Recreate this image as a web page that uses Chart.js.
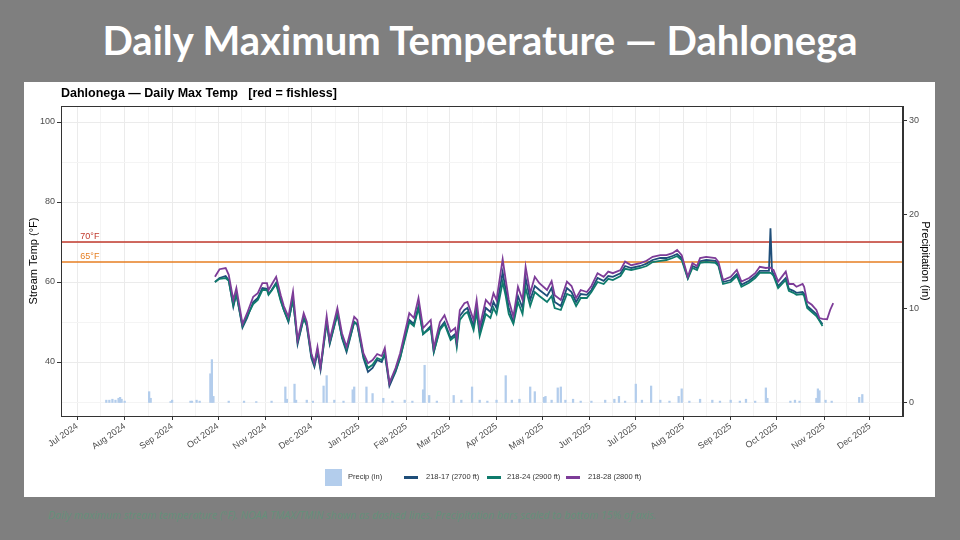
<!DOCTYPE html>
<html>
<head>
<meta charset="utf-8">
<script src="https://cdn.jsdelivr.net/npm/chart.js@4.4.1/dist/chart.umd.min.js"></script>
<style>
  body { margin: 0; width: 960px; height: 540px; background: #7f7f7f; overflow: hidden; position: relative; font-family: "Liberation Sans", Arial, sans-serif; }
  h1 { position: absolute; left: 0; top: 16px; width: 960px; margin: 0; text-align: center; color: #fff; font: bold 40px Lato, sans-serif; }
  #panel { position: absolute; left: 24px; top: 82px; width: 911px; height: 415px; background: #fff; }
  .lg { position: absolute; font-size: 7.5px; color: #333; line-height: 10px; top: 472px; }
  .sw { position: absolute; }
  #note { position: absolute; left: 48px; top: 508px; font: italic 10.5px "Open Sans", sans-serif; color: #65907a; white-space: nowrap; }
</style>
</head>
<body>
<h1>Daily Maximum Temperature — Dahlonega</h1>
<div id="panel"><canvas id="c" width="911" height="415"></canvas></div>

<div class="sw" style="left:325px;top:469px;width:17px;height:17px;background:#b3cdec"></div>
<div class="lg" style="left:348px">Precip (in)</div>
<div class="sw" style="left:404px;top:475.5px;width:14px;height:3px;background:#1f4e79"></div>
<div class="lg" style="left:426px">218-17 (2700 ft)</div>
<div class="sw" style="left:487px;top:475.5px;width:14px;height:3px;background:#0f7b6c"></div>
<div class="lg" style="left:507px">218-24 (2900 ft)</div>
<div class="sw" style="left:566px;top:475.5px;width:14px;height:3px;background:#7d3c98"></div>
<div class="lg" style="left:588px">218-28 (2800 ft)</div>

<div id="note">Daily maximum stream temperature (°F). NOAA TMAX/TMIN shown as dashed lines. Precipitation bars scaled to bottom 15% of axis.</div>

<script>
// days counted from 1 Jul 2024
var days = [90,93,97,99,102,104,108,111,115,118,121,124,125,127,130,133,135,138,141,144,
  148,150,153,155,157,159,163,165,170,173,176,181,183,187,190,193,196,199,201,204,
  208,211,214,217,220,223,226,231,233,237,240,244,247,248,250,253,255,259,261,263,
  267,270,272,274,278,280,282,285,288,291,293,296,299,302,307,310,312,316,320,323,
  326,329,333,336,340,344,347,350,355,358,362,368,372,376,381,385,389,392,395,399,
  402,405,407,411,417,419,422,427,431,434,439,443,446,450,452,453,454,455,458,463,
  465,468,470,474,475,477,480,483,485,487,490,492,494];

var s17 = [60.0,61.0,61.5,60.5,53.8,57.0,48.6,51.0,55.0,56.0,58.5,58.3,57.0,58.0,59.8,55.5,53.0,50.0,55.8,44.5,
  51.0,49.0,41.0,38.8,42.5,38.0,50.0,44.5,52.0,46.0,42.5,50.0,49.3,41.0,37.5,38.5,40.5,40.0,42.0,34.0,
  37.5,41.0,46.0,50.5,49.5,54.0,47.0,49.0,42.5,48.5,50.0,46.0,47.0,44.5,51.5,53.0,53.5,49.0,53.5,47.5,
  53.5,52.5,55.0,53.5,62.5,58.0,53.5,50.0,56.5,53.5,61.0,55.5,59.0,58.0,56.5,58.5,55.0,54.0,58.5,57.5,
  55.0,57.0,56.8,58.0,61.0,60.3,61.5,61.3,62.2,64.0,63.5,64.0,64.6,65.5,66.0,66.0,66.5,67.0,66.0,61.0,
  64.0,63.5,65.2,65.5,65.3,64.3,60.0,60.5,62.0,59.3,60.3,61.5,62.8,62.8,62.8,73.4,62.6,62.0,59.0,61.0,
  58.3,57.8,57.3,57.5,57.0,54.0,53.0,52.0,50.5,49.5,null,null,null];

var s24 = [60.0,60.8,61.0,60.3,54.2,57.0,49.0,51.5,54.5,55.5,58.0,58.0,56.8,57.8,59.5,55.2,53.0,50.3,55.5,45.0,
  51.0,49.3,41.5,39.3,43.0,38.5,50.0,44.8,52.0,46.3,43.0,50.0,49.5,41.5,38.5,39.3,41.0,40.5,42.3,34.8,
  37.8,41.0,45.5,50.0,49.0,53.5,47.0,48.5,42.5,48.0,49.5,45.5,46.5,43.8,50.5,52.0,52.5,48.0,52.5,46.5,
  52.0,51.0,53.5,52.0,60.0,56.5,52.0,49.5,55.0,52.0,58.5,54.0,57.5,56.5,55.0,56.5,53.5,53.0,57.0,56.5,
  54.0,56.0,56.0,57.5,60.0,59.5,60.8,60.5,61.5,63.3,63.0,63.5,64.0,65.0,65.3,65.5,66.0,66.5,65.5,60.8,
  63.5,63.0,64.8,65.0,64.8,64.0,59.5,60.0,61.5,58.8,59.8,61.0,62.3,62.3,62.3,62.3,62.0,61.5,58.5,60.5,
  57.8,57.3,56.8,57.0,56.5,53.5,52.5,51.5,50.3,49.0,null,null,null];

var s28 = [61.3,63.2,63.5,61.8,55.5,58.5,49.5,52.2,56.3,57.2,59.7,59.7,58.0,59.3,61.3,56.7,54.0,51.3,57.6,45.5,
  52.2,50.1,42.2,39.7,43.8,38.8,51.5,45.5,53.5,47.2,43.8,51.3,50.5,42.2,39.7,40.5,42.0,41.5,43.5,34.7,
  38.5,42.2,47.2,52.2,51.0,56.0,48.5,50.5,43.5,50.0,51.7,47.6,48.5,45.5,53.0,54.7,55.0,50.5,55.5,48.8,
  55.5,54.2,57.2,55.5,65.7,60.5,55.5,51.3,58.8,55.5,63.8,57.2,61.3,59.7,58.0,60.2,56.7,55.5,60.1,59.0,
  56.0,58.0,57.5,59.0,62.2,61.3,62.6,62.2,63.0,65.1,64.2,64.7,65.3,66.3,66.7,66.7,67.2,68.0,66.7,61.3,
  64.7,64.0,66.0,66.3,66.0,65.0,60.5,61.3,63.0,60.1,61.0,62.2,63.8,63.5,63.6,63.6,63.2,63.0,60.1,62.6,
  59.5,59.5,58.8,59.5,58.8,55.1,54.3,53.0,51.0,50.8,50.7,53.0,54.7];

// precipitation (in), days from 1 Jul 2024
var precipDays = [19,21,23,25,27,28,29,31,47,48,61,62,74,75,78,80,87,88,89,
  99,109,117,127,136,137,142,143,150,154,161,163,168,174,180,181,189,193,200,206,
  214,219,226,227,230,235,246,251,258,263,268,274,280,284,289,296,299,305,306,310,
  314,316,319,324,329,336,345,351,354,358,365,369,375,381,387,393,395,400,407,415,
  420,427,433,437,443,450,451,466,469,472,483,484,485,489,493,511,513];
var precipIn = [0.3,0.3,0.4,0.3,0.5,0.6,0.4,0.2,1.2,0.5,0.15,0.3,0.2,0.2,0.3,0.2,3.1,4.6,0.7,
  0.2,0.2,0.15,0.2,1.7,0.4,2.0,0.3,0.3,0.2,1.8,2.9,0.3,0.2,1.4,1.7,1.7,1.0,0.5,0.2,
  0.3,0.2,1.4,4.0,0.8,0.2,0.8,0.3,1.7,0.3,0.2,0.3,2.9,0.3,0.4,1.7,1.2,0.6,0.7,0.3,
  1.6,1.7,0.3,0.4,0.2,0.2,0.3,0.4,0.7,0.2,2.0,0.3,1.8,0.3,0.2,0.7,1.5,0.2,0.4,0.3,
  0.2,0.3,0.2,0.4,0.2,1.6,0.5,0.2,0.3,0.2,0.5,1.5,1.3,0.3,0.2,0.6,0.9];

var thresholds = [70, 65];
var thresholdLabels = ['70°F', '65°F'];
var thresholdColors = ['#c0392b', '#e67e22'];

var tickLabels = ['Jul 2024','Aug 2024','Sep 2024','Oct 2024','Nov 2024','Dec 2024','Jan 2025',
  'Feb 2025','Mar 2025','Apr 2025','May 2025','Jun 2025','Jul 2025','Aug 2025','Sep 2025',
  'Oct 2025','Nov 2025','Dec 2025'];

var xMin = -10.6, xMax = 539.6;
var monthNames = ['Jan','Feb','Mar','Apr','May','Jun','Jul','Aug','Sep','Oct','Nov','Dec'];
var origin = Date.UTC(2024, 6, 1);
function dayOf(label) {
  var p = label.split(' ');
  return (Date.UTC(+p[1], monthNames.indexOf(p[0]), 1) - origin) / 864e5;
}
var xTicks = [];
tickLabels.forEach(function (lab, i) {
  var d = dayOf(lab);
  xTicks.push({ value: d, major: true, label: lab });
  if (i < tickLabels.length - 1) xTicks.push({ value: (d + dayOf(tickLabels[i + 1])) / 2, major: false });
});
var labelAt = {};
xTicks.forEach(function (t) { if (t.major) labelAt[t.value] = t.label; });

function pts(vals) {
  return days.map(function (d, i) { return { x: d, y: vals[i] }; });
}

var datasets = [
  { type: 'line', label: '218-28 (2800 ft)', data: pts(s28), borderColor: '#7d3c98', borderWidth: 1.8, pointRadius: 0, order: 1, yAxisID: 'y' },
  { type: 'line', label: '218-24 (2900 ft)', data: pts(s24), borderColor: '#0f7b6c', borderWidth: 1.8, pointRadius: 0, order: 2, yAxisID: 'y' },
  { type: 'line', label: '218-17 (2700 ft)', data: pts(s17), borderColor: '#1f4e79', borderWidth: 1.8, pointRadius: 0, order: 3, yAxisID: 'y' }
];
thresholds.forEach(function (t, i) {
  datasets.push({ type: 'line', label: thresholdLabels[i], data: [{ x: xMin, y: t }, { x: xMax, y: t }],
    borderColor: thresholdColors[i], borderWidth: 1.3, pointRadius: 0, order: 4, yAxisID: 'y' });
});
datasets.push({ type: 'bar', label: 'Precip (in)', data: precipDays.map(function (d, i) { return { x: d, y: precipIn[i] }; }),
  backgroundColor: '#b3cdec', barThickness: 1.6, order: 5, yAxisID: 'y2' });

var frame = {
  id: 'frame',
  afterDatasetsDraw: function (chart) {
    var ctx = chart.ctx, a = chart.chartArea, x = chart.scales.x, y = chart.scales.y;
    ctx.save();
    ctx.font = '9px "Liberation Sans", Arial, sans-serif';
    ctx.textAlign = 'left';
    ctx.textBaseline = 'bottom';
    thresholds.forEach(function (t, i) {
      ctx.fillStyle = thresholdColors[i];
      ctx.fillText(thresholdLabels[i], x.getPixelForValue(2), y.getPixelForValue(t) - 1);
    });
    ctx.strokeStyle = '#333';
    ctx.lineWidth = 1;
    ctx.strokeRect(a.left + 0.5, a.top + 0.5, a.right - a.left - 1, a.bottom - a.top);
    ctx.restore();
  }
};

var tickFont = { size: 9, family: '"Liberation Sans", Arial, sans-serif' };

new Chart(document.getElementById('c'), {
  type: 'line',
  data: { datasets: datasets },
  options: {
    responsive: false,
    animation: false,
    devicePixelRatio: 1,
    layout: { padding: 0 },
    plugins: {
      legend: { display: false },
      tooltip: { enabled: false },
      title: {
        display: true, text: 'Dahlonega — Daily Max Temp   [red = fishless]', align: 'start', fullSize: false,
        color: '#000', font: { size: 12.5, weight: 'bold', family: '"Liberation Sans", Arial, sans-serif' },
        padding: { top: 4, bottom: 5 }
      }
    },
    scales: {
      x: {
        type: 'linear', min: xMin, max: xMax, offset: false,
        afterFit: function (s) { s.height = 81; },
        afterBuildTicks: function (s) { s.ticks = xTicks.map(function (t) { return { value: t.value, major: t.major }; }); },
        ticks: {
          autoSkip: false, minRotation: 35, maxRotation: 35, color: '#4d4d4d', font: tickFont, padding: 1,
          callback: function (v) { return labelAt[v] || ''; }
        },
        grid: {
          offset: false,
          color: function (c) { return c.tick && c.tick.major ? '#ebebeb' : '#f4f4f4'; },
          tickColor: function (c) { return c.tick && c.tick.major ? '#333' : 'rgba(0,0,0,0)'; },
          tickLength: 4
        },
        border: { color: '#333' }
      },
      y: {
        position: 'left', min: 26.5, max: 104,
        afterFit: function (s) { s.width = 37; },
        afterBuildTicks: function (s) {
          s.ticks = [30, 40, 50, 60, 70, 80, 90, 100].map(function (v) { return { value: v, major: v % 20 === 0 }; });
        },
        ticks: { color: '#4d4d4d', font: tickFont, padding: 2, callback: function (v) { return v % 20 === 0 ? v : ''; } },
        grid: {
          color: function (c) { return c.tick && c.tick.major ? '#ebebeb' : '#f4f4f4'; },
          tickColor: function (c) { return c.tick && c.tick.major ? '#333' : 'rgba(0,0,0,0)'; },
          tickLength: 4
        },
        border: { color: '#333' },
        title: { display: true, text: 'Stream Temp (°F)', color: '#000', font: { size: 11, family: '"Liberation Sans", Arial, sans-serif' }, padding: 3 }
      },
      y2: {
        position: 'right', min: -1.38, max: 31.5,
        afterFit: function (s) { s.width = 32; },
        afterBuildTicks: function (s) { s.ticks = [0, 10, 20, 30].map(function (v) { return { value: v }; }); },
        ticks: { color: '#4d4d4d', font: tickFont, padding: 2 },
        grid: { drawOnChartArea: false, tickColor: '#333', tickLength: 4 },
        border: { color: '#333' },
        title: { display: true, text: 'Precipitation (in)', color: '#000', font: { size: 11, family: '"Liberation Sans", Arial, sans-serif' }, padding: 3 }
      }
    }
  },
  plugins: [frame]
});
</script>
</body>
</html>
